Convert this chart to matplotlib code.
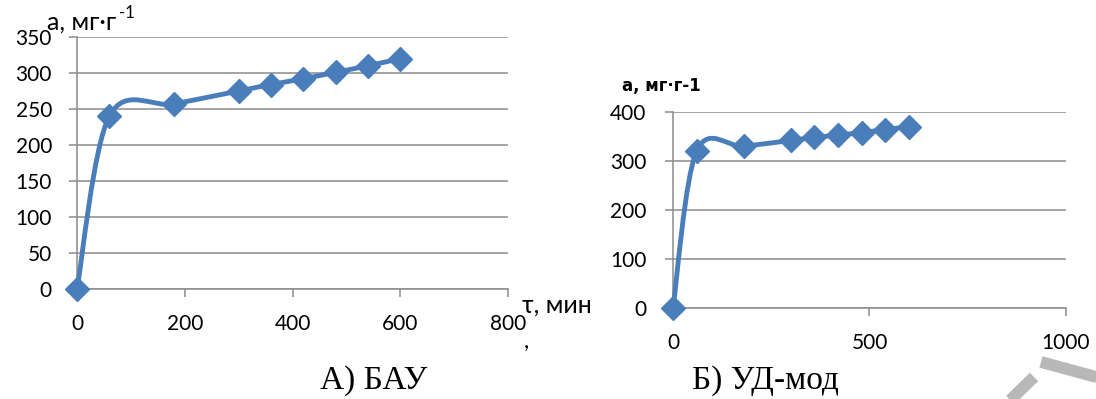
import numpy as np
import matplotlib
matplotlib.use("Agg")
import matplotlib.pyplot as plt
from matplotlib.path import Path
from matplotlib.patches import PathPatch
from matplotlib.lines import Line2D

# data
t_bau = [0, 60, 180, 300, 360, 420, 480, 540, 600]
a_bau = [0, 240, 257, 275, 284, 292, 301, 310, 320]
t_ud = [0, 60, 180, 300, 360, 420, 480, 540, 600]
a_ud = [0, 320, 330, 342, 348, 353, 358, 364, 370]

W, H = 1096, 399
BLUE = '#4a7ebb'
GRID = '#8c8c8c'
TICKFONT = ['Lato', 'DejaVu Sans']


def fx(px):
    return px / W


def fy(py):
    return 1 - py / H


def smooth_path(x, y):
    # excel-like smoothed line: catmull-rom as cubic bezier
    p = np.column_stack([x, y]).astype(float)
    n = len(p)
    verts = [p[0]]
    codes = [Path.MOVETO]
    for i in range(n - 1):
        p0 = p[i - 1] if i > 0 else p[i]
        p3 = p[i + 2] if i + 2 < n else p[i + 1]
        c1 = p[i] + (p[i + 1] - p0) / 6
        c2 = p[i + 1] - (p3 - p[i]) / 6
        verts += [c1, c2, p[i + 1]]
        codes += [Path.CURVE4] * 3
    return Path(verts, codes)


def setup(ax, xmax, xstep, ymax, ystep, ypad):
    ax.set_xlim(0, xmax)
    ax.set_ylim(0, ymax)
    ax.set_xticks(np.arange(0, xmax + 1, xstep))
    ax.set_yticks(np.arange(0, ymax + 1, ystep))
    ax.grid(axis='y', color=GRID, lw=1.1)
    ax.set_axisbelow(True)
    for s in ['top', 'right']:
        ax.spines[s].set_visible(False)
    for s in ['left', 'bottom']:
        ax.spines[s].set_color(GRID)
        ax.spines[s].set_linewidth(1.1)
    ax.tick_params(axis='y', length=6, width=1.1, color=GRID, pad=ypad, labelsize=15)
    ax.tick_params(axis='x', length=6, width=1.1, color=GRID, pad=12, labelsize=15)
    for lab in ax.get_xticklabels() + ax.get_yticklabels():
        lab.set_family(TICKFONT)


def draw(ax, x, y):
    ax.add_patch(PathPatch(smooth_path(x, y), fill=False, ec=BLUE, lw=3.5,
                           capstyle='round', joinstyle='round', clip_on=False, zorder=3))
    ax.plot(x, y, ls='none', marker='D', ms=12.5, color=BLUE, clip_on=False, zorder=4)


fig = plt.figure(figsize=(W / 100, H / 100), dpi=100)

ax1 = fig.add_axes([fx(77), fy(289), fx(508 - 77), (289 - 37) / H])
setup(ax1, 800, 200, 350, 50, 12)
draw(ax1, t_bau, a_bau)

ax2 = fig.add_axes([fx(673), fy(308), fx(1066 - 673), (308 - 112) / H])
setup(ax2, 1000, 500, 400, 100, 13)
draw(ax2, t_ud, a_ud)

# axis titles
fig.text(fx(47), fy(30), 'a, мг·г', family=TICKFONT, fontsize=18, ha='left', va='baseline')
fig.text(fx(119), fy(18), '-1', family=TICKFONT, fontsize=12, ha='left', va='baseline')
fig.text(fx(522), fy(305), 'τ, мин', family=TICKFONT, fontsize=18, ha='left', va='center')
fig.text(fx(524), fy(348), ',', family=TICKFONT, fontsize=16, ha='left', va='baseline')
fig.text(fx(622), fy(86), 'a, мг·г-1', family='DejaVu Sans', fontsize=12, fontweight='bold',
         ha='left', va='center')

# captions
fig.text(fx(374), fy(381), 'А) БАУ', family='Liberation Serif', fontsize=24, ha='center', va='center')
fig.text(fx(765), fy(381), 'Б) УД-мод', family='Liberation Serif', fontsize=24, ha='center', va='center')

# grey watermark fragment in the corner
fig.add_artist(Line2D([fx(1041), fx(1100)], [fy(362), fy(378)], color='#b8b8b8', lw=8.5,
                      solid_capstyle='butt'))
fig.add_artist(Line2D([fx(1034), fx(1000)], [fy(377), fy(410)], color='#b8b8b8', lw=8.5,
                      solid_capstyle='butt'))

fig.savefig('out.png', dpi=100)
